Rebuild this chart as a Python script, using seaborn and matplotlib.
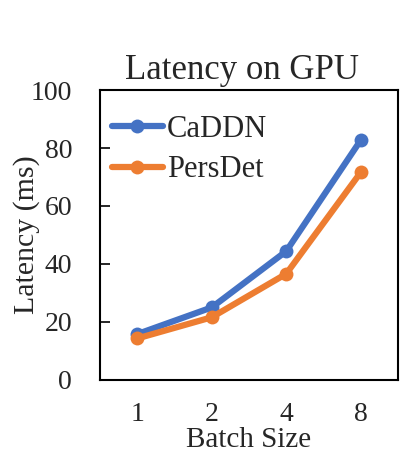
import matplotlib
matplotlib.use("Agg")
import matplotlib.pyplot as plt
import pandas as pd
import seaborn as sns

batch_sizes = ["1", "2", "4", "8"]
caddn_ms = [15.8, 25.0, 44.4, 82.7]
persdet_ms = [14.3, 21.6, 36.6, 71.6]

COLORS = {"CaDDN": "#4472C4", "PersDet": "#ED7D31"}

sns.set_theme(style="white")
plt.rcParams["font.family"] = ["Liberation Serif", "DejaVu Serif"]

df = pd.DataFrame(
    {
        "Batch Size": batch_sizes * 2,
        "Latency": caddn_ms + persdet_ms,
        "Method": ["CaDDN"] * 4 + ["PersDet"] * 4,
    }
)

fig = plt.figure(figsize=(4.15, 4.69), dpi=100)
ax = fig.add_axes([0.241, 0.19, 0.718, 0.618])

sns.lineplot(
    data=df,
    x="Batch Size",
    y="Latency",
    hue="Method",
    palette=COLORS,
    marker="o",
    markersize=10,
    markeredgewidth=0,
    linewidth=4.5,
    sort=False,
    ax=ax,
)

ax.set_xlim(-0.5, 3.5)
ax.set_ylim(0, 100)
ax.set_yticks([0, 20, 40, 60, 80, 100])
ax.set_title("Latency on GPU", fontsize=25, x=0.477, pad=8)
ax.set_xlabel("Batch Size", fontsize=21, labelpad=0)
ax.set_ylabel("Latency (ms)", fontsize=21.5)
ax.yaxis.set_label_coords(-0.2, 0.5)
ax.tick_params(axis="y", direction="in", length=7, width=1.2, color="black",
               labelsize=20, left=True, pad=20)
ax.tick_params(axis="x", length=0, labelsize=20, pad=16)
for spine in ax.spines.values():
    spine.set_color("black")
    spine.set_linewidth(1.5)

leg = ax.legend(
    loc="upper left",
    bbox_to_anchor=(0.04, 0.915),
    frameon=False,
    fontsize=22,
    handlelength=1.67,
    handletextpad=0.13,
    borderaxespad=0,
    borderpad=0,
    labelspacing=0.38,
)
leg.set_title(None)

fig.savefig("out.png", dpi=100)
